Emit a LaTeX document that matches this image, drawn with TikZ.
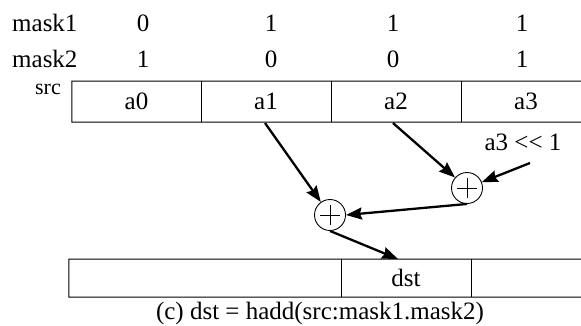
\documentclass[tikz,border=0pt]{standalone}
\usepackage{fontspec}
\setmainfont{Liberation Serif}
\usetikzlibrary{arrows.meta,calc}
\begin{document}
\begin{tikzpicture}[x=1pt,y=-1pt,
  txt/.style={font=\fontsize{25}{28}\selectfont, inner sep=0pt},
  cell/.style={txt, minimum height=41pt, minimum width=130pt},
  frame/.style={line width=1pt},
  plusnode/.style={circle, draw, line width=0.9pt, minimum size=31pt, inner sep=0pt},
  plusbar/.style={line width=0.9pt},
  arr/.style={line width=2.3pt, -{Stealth[length=16pt,width=12pt,inset=2pt]}}]
\useasboundingbox (0,0) rectangle (581,325);
% mask rows
\node[txt, anchor=base west] (m1) at (12,31) {mask1};
\node[txt, anchor=base] (m1a) at (143,31) {0};
\node[txt, anchor=base] (m1b) at (271,31) {1};
\node[txt, anchor=base] (m1c) at (393,31) {1};
\node[txt, anchor=base] (m1d) at (522,31) {1};
\node[txt, anchor=base west] (m2) at (12,67) {mask2};
\node[txt, anchor=base] (m2a) at (143,67) {1};
\node[txt, anchor=base] (m2b) at (271,67) {0};
\node[txt, anchor=base] (m2c) at (393,67) {0};
\node[txt, anchor=base] (m2d) at (522,67) {1};
% src
\node[txt, font=\fontsize{22}{26}\selectfont, anchor=base] (src) at (48,94) {src};
\node[cell, minimum width=129pt] (a0) at (136.5,101.5) {a0};
\node[cell] (a1) at (266,101.5) {a1};
\node[cell] (a2) at (396,101.5) {a2};
\node[cell] (a3) at (526,101.5) {a3};
\draw[frame] (581,81) -| (a0.south west) -- (581,122);
\draw[frame] (a0.north east) -- (a0.south east);
\draw[frame] (a1.north east) -- (a1.south east);
\draw[frame] (a2.north east) -- (a2.south east);
% adders
\node[plusnode] (p1) at (330,215) {};
\node[plusnode] (p2) at (467,188) {};
\draw[plusbar] ($(p1)+(-10,0)$) -- ($(p1)+(10,0)$) ($(p1)+(0,-10)$) -- ($(p1)+(0,10)$);
\draw[plusbar] ($(p2)+(-10,0)$) -- ($(p2)+(10,0)$) ($(p2)+(0,-10)$) -- ($(p2)+(0,10)$);
\node[txt, anchor=base] (sh) at (523,150) {a3 <{}< 1};
\coordinate (s1) at (265,123);
\coordinate (s2) at (393,123);
\coordinate (s3) at (530,163);
% dst
\node[cell, minimum width=272pt, minimum height=38pt] (d0) at (205,278) {};
\node[cell, minimum height=38pt] (d1) at (406,278) {dst};
\node[cell, minimum width=110pt, minimum height=38pt] (d2) at (526,278) {};
\draw[frame] (581,259) -| (d0.south west) -- (581,297);
\draw[frame] (d0.north east) -- (d0.south east);
\draw[frame] (d1.north east) -- (d1.south east);
\coordinate (dt) at (398,259);
% arrows
\draw[arr] (s1) -- (p1);
\draw[arr] (s2) -- (p2);
\draw[arr] (s3) -- (p2);
\draw[arr] (p2.south) -- (p1.east);
\draw[arr] (p1.south) -- (dt);
% caption
\node[txt, anchor=base] (cap) at (320,319) {(c) dst = hadd(src:mask1.mask2)};
\end{tikzpicture}
\end{document}
